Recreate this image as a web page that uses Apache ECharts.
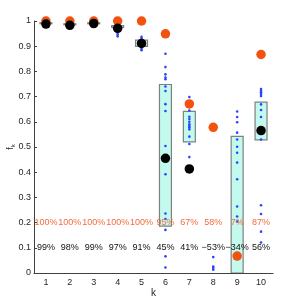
<!DOCTYPE html>
<html><head><meta charset="utf-8">
<script src="https://cdn.jsdelivr.net/npm/echarts@6/dist/echarts.min.js"></script>
<style>html,body{margin:0;padding:0;background:#fff}#c{width:291px;height:298px}</style>
</head><body><div id="c"></div>
<script>
var categories = ['1','2','3','4','5','6','7','8','9','10'];
var orangeVals = [1, 1, 1, 1, 1, 0.949, 0.671, 0.578, 0.067, 0.867];
var blackVals = [0.988, 0.983, 0.99, 0.971, 0.911, 0.455, 0.413, -0.53, -0.34, 0.565];
var boxLow =  [0.990, 0.985, 0.990, 0.975, 0.899, 0.186, 0.520, null, -0.2, 0.528];
var boxHigh = [0.993, 0.989, 0.993, 0.982, 0.924, 0.748, 0.641, null, 0.542, 0.678];
var dotValues = [
  [0.99, 0.992],
  [0.985, 0.987],
  [0.99, 0.992],
  [0.978, 0.953, 0.946, 0.939],
  [0.937, 0.93, 0.92, 0.91, 0.9, 0.89, 0.884],
  [0.87, 0.817, 0.788, 0.776, 0.769, 0.74, 0.722, 0.67, 0.643, 0.504, 0.392, 0.236, 0.214, 0.171, 0.066, 0.022],
  [0.698, 0.66, 0.645, 0.62, 0.611, 0.60, 0.59, 0.583, 0.578, 0.57, 0.541, 0.512, 0.46],
  [0.063, 0.026, 0.02, 0.013],
  [0.641, 0.619, 0.598, 0.557, 0.530, 0.501, 0.477, 0.438, 0.372, 0.264, 0.224, 0.204],
  [0.730, 0.723, 0.717, 0.710, 0.702, 0.669, 0.647, 0.619, 0.530, 0.269, 0.234, 0.164, 0.121]
];
var orangeLabels = ['100%','100%','100%','100%','100%','95%','67%','58%','7%','87%'];
var blackLabels = ['99%','98%','99%','97%','91%','45%','41%','\u221253%','\u221234%','56%'];
var orangeLabelY = 0.2;
var blackLabelY = 0.1;

var FONT = '"Liberation Sans", Arial, sans-serif';
var axisColor = '#404040';

var boxData = [];
categories.forEach(function (c, i) {
  if (boxLow[i] !== null) boxData.push([i, boxLow[i], boxHigh[i]]);
});
var dotData = [];
dotValues.forEach(function (arr, i) {
  arr.forEach(function (v) { dotData.push([i, v]); });
});
var orangeData = orangeVals.map(function (v, i) { return [i, v]; });
var blackData = blackVals.map(function (v, i) { return [i, v]; });
var oLabData = orangeLabels.map(function (t, i) { return {value: [i, orangeLabelY], name: t}; });
var bLabData = blackLabels.map(function (t, i) { return {value: [i, blackLabelY], name: t}; });

var chart = echarts.init(document.getElementById('c'), null, {renderer: 'canvas'});
chart.setOption({
  animation: false,
  backgroundColor: '#fff',
  grid: {left: 34, right: 18, top: 21, bottom: 25, outerBoundsMode: 'none'},
  xAxis: {
    type: 'category', data: categories, boundaryGap: true,
    name: 'k', nameLocation: 'middle', nameGap: 15, nameMoveOverlap: false,
    nameTextStyle: {fontFamily: FONT, fontSize: 10, color: '#262626'},
    axisLine: {lineStyle: {color: axisColor, width: 1}},
    axisTick: {alignWithLabel: true, inside: true, length: 3, lineStyle: {color: axisColor}},
    axisLabel: {fontFamily: FONT, fontSize: 9, color: '#262626', margin: 5},
    splitLine: {show: false}
  },
  yAxis: {
    type: 'value', min: 0, max: 1, interval: 0.1,
    name: '{f|f}{k|k}', nameLocation: 'middle', nameGap: 18, nameRotate: 90, nameMoveOverlap: false,
    nameTextStyle: {rich: {
      f: {fontFamily: FONT, fontSize: 9, color: '#262626'},
      k: {fontFamily: FONT, fontSize: 6, color: '#262626', verticalAlign: 'bottom', padding: [4, 0, 0, 0]}
    }},
    axisLine: {show: true, lineStyle: {color: axisColor, width: 1}},
    axisTick: {show: true, inside: true, length: 3, lineStyle: {color: axisColor}},
    axisLabel: {fontFamily: FONT, fontSize: 9, color: '#262626', margin: 3,
      formatter: function (v) { return String(Math.round(v * 10) / 10); }},
    splitLine: {show: false}
  },
  series: [
    {
      type: 'custom', clip: true, z: 1,
      data: boxData,
      renderItem: function (params, api) {
        var x = api.value(0);
        var lo = api.coord([x, api.value(1)]);
        var hi = api.coord([x, api.value(2)]);
        var w = api.size([1, 0])[0] * 0.5;
        var cs = params.coordSys;
        var yBottom = Math.min(lo[1], cs.y + cs.height);
        var yTop = Math.max(hi[1], cs.y);
        var h = Math.max(yBottom - yTop, 1);
        return {
          type: 'rect',
          shape: {x: lo[0] - w / 2, y: yTop, width: w, height: h},
          style: {fill: '#c2fbee', stroke: '#808080', lineWidth: 1.2}
        };
      }
    },
    {
      type: 'scatter', z: 2, data: dotData, symbol: 'circle', symbolSize: 2.6,
      itemStyle: {color: '#2a45ff', opacity: 1}
    },
    {
      type: 'scatter', z: 3, data: orangeData, symbol: 'circle', symbolSize: 9.5,
      itemStyle: {color: '#f2520d', opacity: 1}
    },
    {
      type: 'scatter', z: 4, data: blackData, symbol: 'circle', symbolSize: 9.5,
      itemStyle: {color: '#000', opacity: 1}
    },
    {
      type: 'scatter', z: 5, data: oLabData, symbolSize: 0.1,
      itemStyle: {color: 'rgba(0,0,0,0)', opacity: 1},
      label: {show: true, position: 'inside', formatter: function (p) { return p.name; },
        fontFamily: FONT, fontSize: 9, color: '#f56b3c', opacity: 1}
    },
    {
      type: 'scatter', z: 5, data: bLabData, symbolSize: 0.1,
      itemStyle: {color: 'rgba(0,0,0,0)', opacity: 1},
      label: {show: true, position: 'inside', formatter: function (p) { return p.name; },
        fontFamily: FONT, fontSize: 9, color: '#111', opacity: 1}
    }
  ]
});
</script></body></html>
